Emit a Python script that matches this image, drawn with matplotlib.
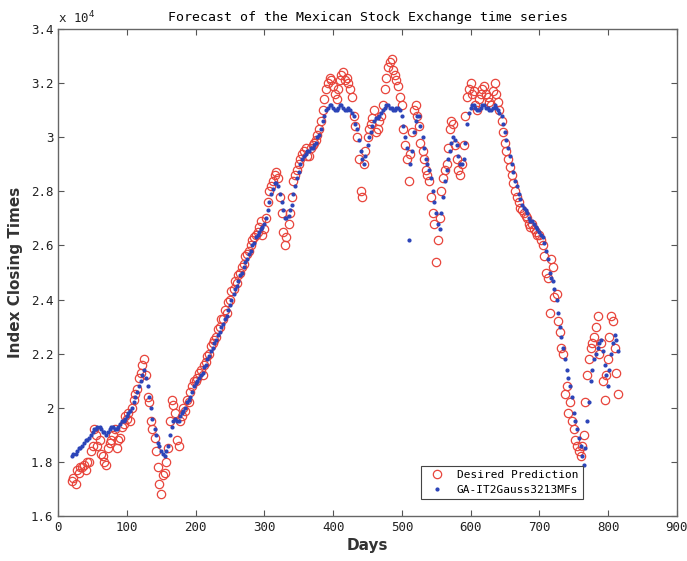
import numpy as np
import matplotlib
matplotlib.use('Agg')
import matplotlib.pyplot as plt

# values in units of 10^4; readings every 5 days, plus a second set of
# readings taken in between (days 22, 27, ...)
days = list(range(20, 820, 5))
days_b = list(range(22, 817, 5))

desired = [
    1.73, 1.72, 1.76, 1.78, 1.77, 1.80, 1.86, 1.90, 1.88, 1.82,
    1.79, 1.87, 1.90, 1.85, 1.89, 1.94, 1.96, 1.95, 2.03, 2.07,
    2.13, 2.18, 2.04, 1.95, 1.89, 1.78, 1.68, 1.76, 1.85, 2.03,
    1.98, 1.86, 1.97, 1.99, 2.02, 2.08, 2.10, 2.13, 2.12, 2.17,
    2.20, 2.24, 2.26, 2.30, 2.33, 2.35, 2.40, 2.44, 2.46, 2.50,
    2.53, 2.57, 2.60, 2.63, 2.65, 2.69, 2.66, 2.76, 2.82, 2.86,
    2.85, 2.72, 2.60, 2.68, 2.78, 2.86, 2.90, 2.94, 2.96, 2.93,
    2.97, 2.99, 3.03, 3.10, 3.18, 3.22, 3.19, 3.14, 3.21, 3.24,
    3.22, 3.18, 3.08, 3.00, 2.80, 2.90, 3.00, 3.05, 3.10, 3.03,
    3.08, 3.18, 3.26, 3.29, 3.23, 3.19, 3.12, 2.97, 2.84, 3.02,
    3.12, 3.04, 2.95, 2.88, 2.84, 2.72, 2.54, 2.70, 2.85, 2.90,
    3.03, 3.05, 2.92, 2.86, 2.97, 3.15, 3.20, 3.17, 3.10, 3.16,
    3.19, 3.15, 3.12, 3.20, 3.13, 3.06, 2.98, 2.92, 2.86, 2.80,
    2.76, 2.73, 2.71, 2.68, 2.68, 2.65, 2.64, 2.60, 2.50, 2.35,
    2.52, 2.42, 2.28, 2.20, 2.08, 2.02, 1.92, 1.86, 1.82, 1.90,
    2.12, 2.22, 2.26, 2.34, 2.24, 2.03, 2.18, 2.34, 2.22, 2.05,
]

desired_b = [
    1.74, 1.77, 1.78, 1.79, 1.80, 1.84, 1.92, 1.86, 1.83, 1.80,
    1.85, 1.88, 1.92, 1.88, 1.93, 1.97, 1.98, 2.00, 2.05, 2.11,
    2.16, 2.12, 2.02, 1.92, 1.84, 1.72, 1.75, 1.80, 1.95, 2.01,
    1.88, 1.95, 2.00, 2.03, 2.06, 2.10, 2.11, 2.14, 2.16, 2.19,
    2.23, 2.25, 2.29, 2.33, 2.36, 2.39, 2.43, 2.47, 2.49, 2.52,
    2.56, 2.58, 2.62, 2.64, 2.67, 2.64, 2.70, 2.80, 2.84, 2.87,
    2.78, 2.65, 2.63, 2.72, 2.84, 2.88, 2.92, 2.95, 2.93, 2.96,
    2.98, 3.01, 3.06, 3.14, 3.20, 3.21, 3.16, 3.18, 3.23, 3.21,
    3.20, 3.15, 3.04, 2.92, 2.78, 2.95, 3.03, 3.07, 3.02, 3.06,
    3.12, 3.22, 3.28, 3.25, 3.21, 3.15, 3.03, 2.92, 2.94, 3.10,
    3.08, 2.98, 2.92, 2.86, 2.78, 2.68, 2.62, 2.80, 2.88, 2.96,
    3.06, 2.97, 2.88, 2.90, 3.08, 3.18, 3.16, 3.12, 3.14, 3.18,
    3.16, 3.13, 3.17, 3.16, 3.10, 3.02, 2.95, 2.89, 2.83, 2.78,
    2.74, 2.72, 2.70, 2.67, 2.66, 2.64, 2.62, 2.56, 2.48, 2.55,
    2.41, 2.32, 2.22, 2.05, 1.98, 1.95, 1.88, 1.84, 1.86, 2.02,
    2.18, 2.24, 2.30, 2.20, 2.10, 2.12, 2.26, 2.32, 2.13,
]

predicted = [
    1.82, 1.83, 1.85, 1.86, 1.88, 1.89, 1.91, 1.92, 1.93, 1.91,
    1.90, 1.92, 1.93, 1.92, 1.94, 1.95, 1.97, 1.99, 2.02, 2.06,
    2.10, 2.14, 2.08, 2.00, 1.92, 1.87, 1.84, 1.82, 1.86, 1.93,
    1.96, 1.95, 1.98, 2.00, 2.03, 2.06, 2.09, 2.11, 2.13, 2.16,
    2.19, 2.22, 2.25, 2.28, 2.31, 2.34, 2.38, 2.42, 2.45, 2.49,
    2.52, 2.55, 2.58, 2.61, 2.64, 2.66, 2.68, 2.73, 2.79, 2.83,
    2.82, 2.76, 2.70, 2.71, 2.75, 2.82, 2.87, 2.92, 2.94, 2.95,
    2.96, 2.98, 3.01, 3.06, 3.10, 3.12, 3.11, 3.10, 3.12, 3.11,
    3.10, 3.10, 3.08, 3.03, 2.95, 2.90, 2.97, 3.02, 3.06, 3.07,
    3.09, 3.11, 3.12, 3.11, 3.10, 3.11, 3.08, 3.00, 2.62, 2.95,
    3.06, 3.08, 3.00, 2.92, 2.88, 2.80, 2.72, 2.66, 2.78, 2.88,
    2.95, 3.00, 2.97, 2.90, 2.92, 3.05, 3.11, 3.12, 3.10, 3.11,
    3.12, 3.11, 3.10, 3.12, 3.10, 3.08, 3.02, 2.96, 2.90, 2.84,
    2.79, 2.75, 2.73, 2.70, 2.69, 2.67, 2.65, 2.63, 2.58, 2.50,
    2.47, 2.40, 2.30, 2.22, 2.14, 2.08, 1.98, 1.92, 1.86, 1.79,
    1.95, 2.10, 2.18, 2.22, 2.25, 2.16, 2.08, 2.20, 2.27, 2.21,
]

predicted_b = [
    1.83, 1.84, 1.85, 1.87, 1.88, 1.90, 1.92, 1.93, 1.92, 1.91,
    1.91, 1.93, 1.92, 1.93, 1.95, 1.96, 1.98, 2.00, 2.04, 2.08,
    2.12, 2.11, 2.04, 1.96, 1.90, 1.86, 1.83, 1.84, 1.90, 1.95,
    1.95, 1.97, 1.99, 2.02, 2.04, 2.08, 2.10, 2.12, 2.15, 2.18,
    2.21, 2.24, 2.27, 2.30, 2.33, 2.36, 2.40, 2.44, 2.47, 2.50,
    2.54, 2.57, 2.60, 2.63, 2.65, 2.67, 2.70, 2.76, 2.81, 2.83,
    2.79, 2.73, 2.70, 2.73, 2.79, 2.85, 2.90, 2.93, 2.95, 2.96,
    2.97, 3.00, 3.03, 3.08, 3.11, 3.12, 3.10, 3.11, 3.12, 3.10,
    3.11, 3.09, 3.05, 2.99, 2.92, 2.93, 3.00, 3.04, 3.07, 3.08,
    3.10, 3.12, 3.11, 3.10, 3.11, 3.10, 3.04, 2.96, 2.90, 3.02,
    3.08, 3.04, 2.96, 2.90, 2.85, 2.76, 2.68, 2.72, 2.84, 2.92,
    2.98, 2.99, 2.93, 2.90, 2.98, 3.09, 3.12, 3.11, 3.10, 3.12,
    3.11, 3.10, 3.11, 3.11, 3.09, 3.05, 2.99, 2.93, 2.87, 2.82,
    2.77, 2.74, 2.72, 2.69, 2.68, 2.66, 2.64, 2.61, 2.55, 2.48,
    2.44, 2.35, 2.26, 2.18, 2.11, 2.04, 1.95, 1.89, 1.82, 1.85,
    2.02, 2.14, 2.20, 2.24, 2.21, 2.12, 2.14, 2.24, 2.25,
]

mono = 'DejaVu Sans Mono'

fig = plt.figure(figsize=(6.87, 5.61), dpi=100)
ax = fig.add_axes([0.0849, 0.0802, 0.9002, 0.868])

ax.plot(days + days_b, desired + desired_b, 'o', mfc='none', mec='#e8453c',
        mew=0.9, ms=6, label='Desired Prediction')
ax.plot(days + days_b, predicted + predicted_b, '.', color='#2b44b8', ms=4,
        label='GA-IT2Gauss3213MFs')

ax.set_xlim(0, 900)
ax.set_ylim(1.6, 3.4)
ax.set_xticks(range(0, 901, 100))
ax.set_yticks(np.arange(1.6, 3.41, 0.2))
ax.set_yticklabels(['1.6', '1.8', '2', '2.2', '2.4', '2.6', '2.8', '3', '3.2', '3.4'])
ax.tick_params(direction='in', top=True, right=True, length=4,
               color='#555555', labelsize=9, labelcolor='#222222')
for lab in ax.get_xticklabels() + ax.get_yticklabels():
    lab.set_family(mono)
for s in ax.spines.values():
    s.set_color('#666666')
    s.set_linewidth(1.0)

ax.text(0.0, 1.005, r'x 10$^4$', transform=ax.transAxes, fontsize=9,
        family=mono, ha='left', va='bottom', color='#222222')
ax.set_title('Forecast of the Mexican Stock Exchange time series',
             family=mono, fontsize=9.5, pad=6)
ax.set_xlabel('Days', fontsize=11, fontweight='bold', color='#333333', labelpad=3)
ax.set_ylabel('Index Closing Times', fontsize=11, fontweight='bold',
              color='#333333', labelpad=6)

leg = ax.legend(loc='lower right', bbox_to_anchor=(0.857, 0.023),
                prop={'family': mono, 'size': 8}, fancybox=False,
                edgecolor='#444444', framealpha=1, borderpad=0.4,
                handletextpad=0.8, labelspacing=0.4)
leg.get_frame().set_linewidth(0.8)

fig.savefig('out.png', dpi=100)
